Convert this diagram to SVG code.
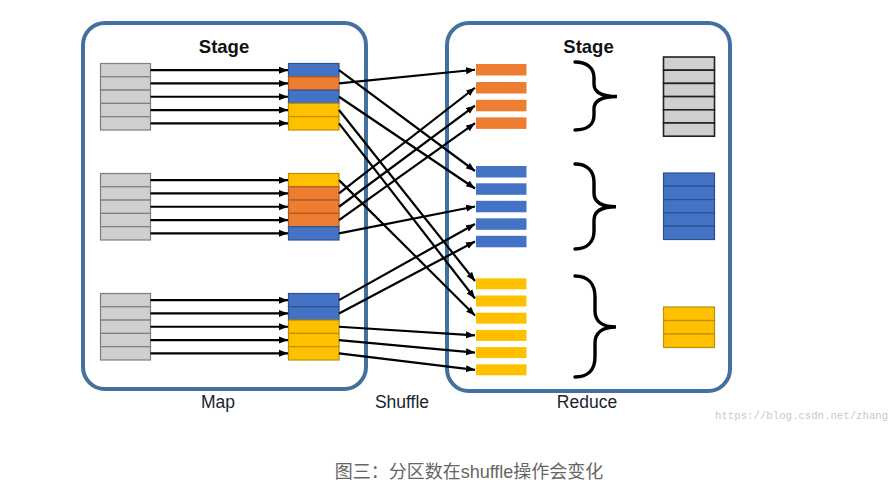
<svg xmlns="http://www.w3.org/2000/svg" width="889" height="500" viewBox="0 0 889 500">
<defs>
<style>
.box{fill:#fff;stroke:#41719C;stroke-width:4}
.g{fill:#D0CECE;stroke:#7F7F7F;stroke-width:1.2}
.b{fill:#4472C4;stroke:#2F528F;stroke-width:1.2}
.o{fill:#ED7D31;stroke:#AE5A21;stroke-width:1.2}
.y{fill:#FFC000;stroke:#BF9000;stroke-width:1.2}
.rg{fill:#D0CECE;stroke:#222;stroke-width:1.6}
.bo{fill:#ED7D31}
.bb{fill:#4472C4}
.by{fill:#FFC000}
.ln{stroke:#000;stroke-width:2.2;fill:none;marker-end:url(#ah)}
.br{stroke:#000;stroke-width:3.4;fill:none;stroke-linecap:round}
.st{font-family:"Liberation Sans",Arial,sans-serif;font-weight:bold;font-size:18.5px;fill:#111;text-anchor:middle}
.lb{font-family:"Liberation Sans",Arial,sans-serif;font-size:17.5px;fill:#1a1f2e;text-anchor:middle}
</style>
<marker id="ah" markerWidth="10" markerHeight="8" refX="9" refY="4" orient="auto" markerUnits="userSpaceOnUse">
<path d="M0,0.5 L9,4 L0,7.5 z" fill="#000"/>
</marker>
</defs>
<rect width="889" height="500" fill="#fff"/>

<g id="map-stage">
<rect class="box" x="83" y="23" width="283" height="366" rx="22"/>
<text class="st" x="224" y="53">Stage</text>
</g>
<g id="reduce-stage">
<rect class="box" x="447" y="23" width="283" height="368" rx="22"/>
<text class="st" x="588.5" y="53">Stage</text>
</g>

<g id="map-input-1">
<rect class="g" x="100.5" y="63.5" width="50" height="13.3"/>
<rect class="g" x="100.5" y="76.8" width="50" height="13.3"/>
<rect class="g" x="100.5" y="90.1" width="50" height="13.3"/>
<rect class="g" x="100.5" y="103.4" width="50" height="13.3"/>
<rect class="g" x="100.5" y="116.7" width="50" height="13.3"/>
</g>
<g id="map-input-2">
<rect class="g" x="100.5" y="173.5" width="50" height="13.3"/>
<rect class="g" x="100.5" y="186.8" width="50" height="13.3"/>
<rect class="g" x="100.5" y="200.1" width="50" height="13.3"/>
<rect class="g" x="100.5" y="213.4" width="50" height="13.3"/>
<rect class="g" x="100.5" y="226.7" width="50" height="13.3"/>
</g>
<g id="map-input-3">
<rect class="g" x="100.5" y="293.5" width="50" height="13.3"/>
<rect class="g" x="100.5" y="306.8" width="50" height="13.3"/>
<rect class="g" x="100.5" y="320.1" width="50" height="13.3"/>
<rect class="g" x="100.5" y="333.4" width="50" height="13.3"/>
<rect class="g" x="100.5" y="346.7" width="50" height="13.3"/>
</g>

<g id="map-output-1">
<rect class="b" x="288.5" y="63.5" width="50.5" height="13.3"/>
<rect class="o" x="288.5" y="76.8" width="50.5" height="13.3"/>
<rect class="b" x="288.5" y="90.1" width="50.5" height="13.3"/>
<rect class="y" x="288.5" y="103.4" width="50.5" height="13.3"/>
<rect class="y" x="288.5" y="116.7" width="50.5" height="13.3"/>
</g>
<g id="map-output-2">
<rect class="y" x="288.5" y="173.5" width="50.5" height="13.3"/>
<rect class="o" x="288.5" y="186.8" width="50.5" height="13.3"/>
<rect class="o" x="288.5" y="200.1" width="50.5" height="13.3"/>
<rect class="o" x="288.5" y="213.4" width="50.5" height="13.3"/>
<rect class="b" x="288.5" y="226.7" width="50.5" height="13.3"/>
</g>
<g id="map-output-3">
<rect class="b" x="288.5" y="293.5" width="50.5" height="13.3"/>
<rect class="b" x="288.5" y="306.8" width="50.5" height="13.3"/>
<rect class="y" x="288.5" y="320.1" width="50.5" height="13.3"/>
<rect class="y" x="288.5" y="333.4" width="50.5" height="13.3"/>
<rect class="y" x="288.5" y="346.7" width="50.5" height="13.3"/>
</g>

<g id="reduce-input-orange">
<rect class="bo" x="476" y="64" width="50.5" height="11.5"/>
<rect class="bo" x="476" y="82" width="50.5" height="11.5"/>
<rect class="bo" x="476" y="99.8" width="50.5" height="11.5"/>
<rect class="bo" x="476" y="117.4" width="50.5" height="11.5"/>
</g>
<g id="reduce-input-blue">
<rect class="bb" x="476" y="166" width="50.5" height="11.5"/>
<rect class="bb" x="476" y="183.3" width="50.5" height="11.5"/>
<rect class="bb" x="476" y="200.8" width="50.5" height="11.5"/>
<rect class="bb" x="476" y="218.3" width="50.5" height="11.5"/>
<rect class="bb" x="476" y="235.8" width="50.5" height="11.5"/>
</g>
<g id="reduce-input-yellow">
<rect class="by" x="476" y="278.3" width="50.5" height="11"/>
<rect class="by" x="476" y="295.5" width="50.5" height="11"/>
<rect class="by" x="476" y="312.7" width="50.5" height="11"/>
<rect class="by" x="476" y="329.9" width="50.5" height="11"/>
<rect class="by" x="476" y="347.1" width="50.5" height="11"/>
<rect class="by" x="476" y="364.3" width="50.5" height="11"/>
</g>

<g id="braces">
<path class="br" d="M575,62 C587,62 594,68 594,78 L594,84 C594,92 601,96.5 617,96.5 C601,96.5 594,101 594,109 L594,115 C594,125 587,130 575,130"/>
<path class="br" d="M575,164 C587,164 594,171 594,182 L594,193 C594,202 601,206.7 616,206.7 C601,206.7 594,211 594,220 L594,231 C594,242 587,249 575,249"/>
<path class="br" d="M575,276 C588,276 595,284 595,297 L595,311 C595,321 602,327 616,327 C602,327 595,333 595,343 L595,357 C595,370 588,377 575,377"/>
</g>

<g id="reduce-output-gray">
<rect class="rg" x="663.5" y="57" width="51" height="13.2"/>
<rect class="rg" x="663.5" y="70.2" width="51" height="13.2"/>
<rect class="rg" x="663.5" y="83.4" width="51" height="13.2"/>
<rect class="rg" x="663.5" y="96.6" width="51" height="13.2"/>
<rect class="rg" x="663.5" y="109.8" width="51" height="13.2"/>
<rect class="rg" x="663.5" y="123" width="51" height="13.2"/>
</g>
<g id="reduce-output-blue">
<rect class="b" x="663.5" y="173" width="51" height="13.3"/>
<rect class="b" x="663.5" y="186.3" width="51" height="13.3"/>
<rect class="b" x="663.5" y="199.6" width="51" height="13.3"/>
<rect class="b" x="663.5" y="212.9" width="51" height="13.3"/>
<rect class="b" x="663.5" y="226.2" width="51" height="13.3"/>
</g>
<g id="reduce-output-yellow">
<rect class="y" x="663.5" y="307" width="51" height="13.5"/>
<rect class="y" x="663.5" y="320.5" width="51" height="13.5"/>
<rect class="y" x="663.5" y="334" width="51" height="13.5"/>
</g>

<g id="connectors">
<line class="ln" x1="150.5" y1="70.15" x2="288" y2="70.15"/>
<line class="ln" x1="150.5" y1="83.45" x2="288" y2="83.45"/>
<line class="ln" x1="150.5" y1="96.75" x2="288" y2="96.75"/>
<line class="ln" x1="150.5" y1="110.05" x2="288" y2="110.05"/>
<line class="ln" x1="150.5" y1="123.35" x2="288" y2="123.35"/>
<line class="ln" x1="150.5" y1="180.15" x2="288" y2="180.15"/>
<line class="ln" x1="150.5" y1="193.45" x2="288" y2="193.45"/>
<line class="ln" x1="150.5" y1="206.75" x2="288" y2="206.75"/>
<line class="ln" x1="150.5" y1="220.05" x2="288" y2="220.05"/>
<line class="ln" x1="150.5" y1="233.35" x2="288" y2="233.35"/>
<line class="ln" x1="150.5" y1="300.15" x2="288" y2="300.15"/>
<line class="ln" x1="150.5" y1="313.45" x2="288" y2="313.45"/>
<line class="ln" x1="150.5" y1="326.75" x2="288" y2="326.75"/>
<line class="ln" x1="150.5" y1="340.05" x2="288" y2="340.05"/>
<line class="ln" x1="150.5" y1="353.35" x2="288" y2="353.35"/>

<line class="ln" x1="339" y1="70.15" x2="475" y2="171"/>
<line class="ln" x1="339" y1="83.45" x2="475" y2="69.75"/>
<line class="ln" x1="339" y1="96.75" x2="475" y2="188.5"/>
<line class="ln" x1="339" y1="110.05" x2="475" y2="281"/>
<line class="ln" x1="339" y1="123.35" x2="475" y2="298.5"/>
<line class="ln" x1="339" y1="180.15" x2="475" y2="315.5"/>
<line class="ln" x1="339" y1="193.45" x2="475" y2="87.75"/>
<line class="ln" x1="339" y1="206.75" x2="475" y2="105.55"/>
<line class="ln" x1="339" y1="220.05" x2="475" y2="123.15"/>
<line class="ln" x1="339" y1="233.35" x2="475" y2="206.5"/>
<line class="ln" x1="339" y1="300.15" x2="475" y2="224"/>
<line class="ln" x1="339" y1="313.45" x2="475" y2="241.5"/>
<line class="ln" x1="339" y1="326.75" x2="475" y2="335.4"/>
<line class="ln" x1="339" y1="340.05" x2="475" y2="352.6"/>
<line class="ln" x1="339" y1="353.35" x2="475" y2="369.8"/>
</g>

<g id="labels">
<text class="lb" x="218" y="408">Map</text>
<text class="lb" x="402" y="408">Shuffle</text>
<text class="lb" x="587" y="408">Reduce</text>
</g>
<text x="715" y="419" font-family="Liberation Mono,monospace" font-size="10.7" fill="#c8c8c8">https://blog.csdn.net/zhang</text>
<text x="469" y="478" text-anchor="middle" font-family="Liberation Sans,Noto Sans CJK SC,sans-serif" font-size="18" fill="#666">图三：分区数在shuffle操作会变化</text>
</svg>
